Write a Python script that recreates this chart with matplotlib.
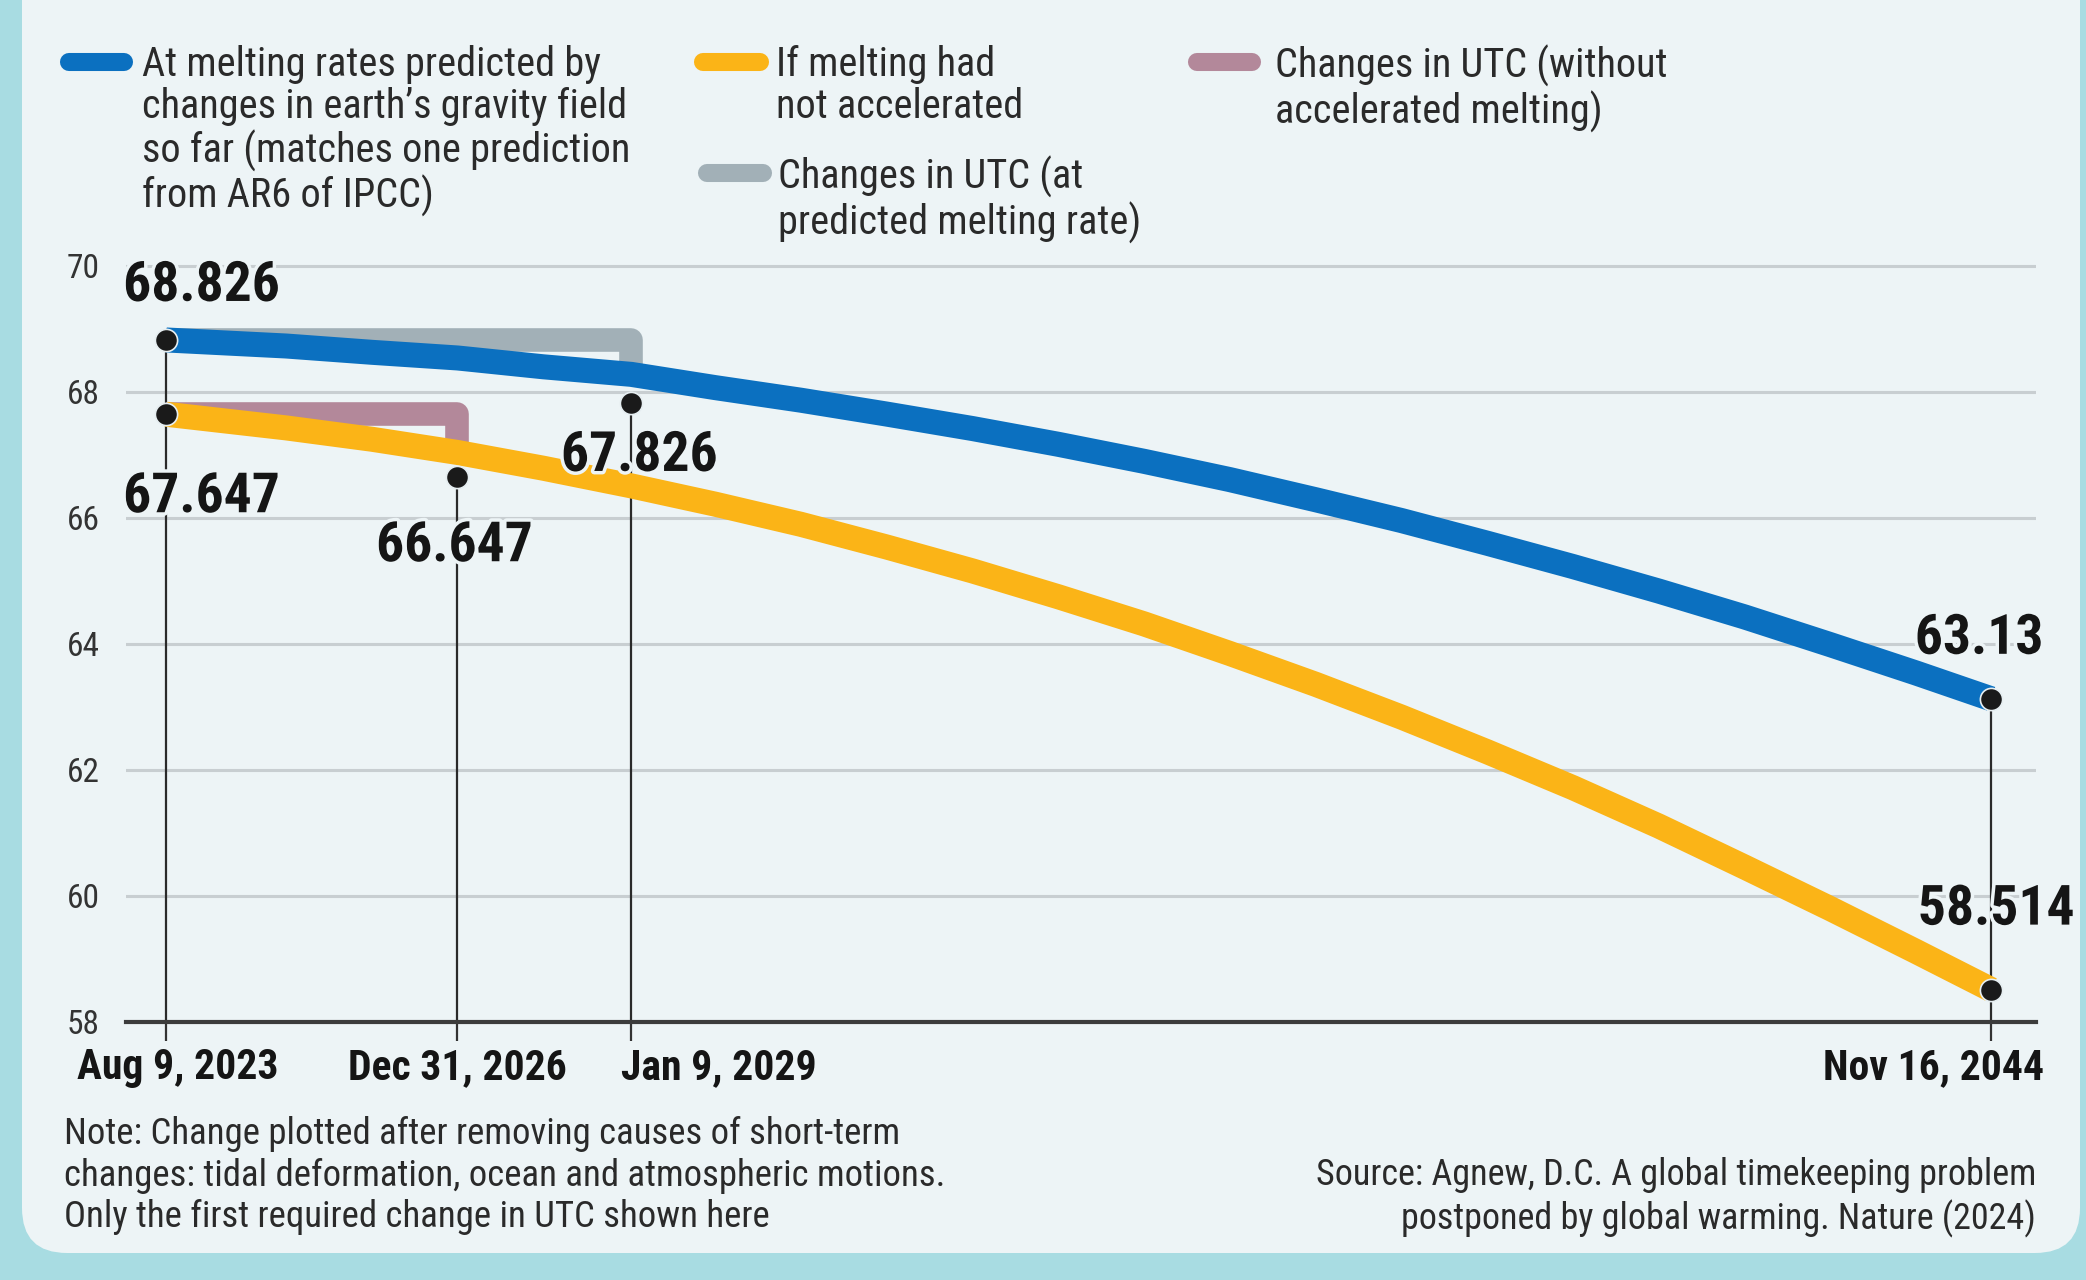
import matplotlib
matplotlib.use('Agg')
import matplotlib.pyplot as plt
import matplotlib.patheffects as pe
import matplotlib.transforms as mtransforms
from matplotlib.patches import FancyBboxPatch
from matplotlib.lines import Line2D
from matplotlib import font_manager as fm
import pandas as pd

# ---------------- data ----------------
blue_dates = ['2023-08-09', '2025-01-01', '2026-01-01', '2027-01-01', '2028-01-01',
              '2029-01-09', '2030-01-01', '2031-01-01', '2032-01-01', '2033-01-01',
              '2034-01-01', '2035-01-01', '2036-01-01', '2037-01-01', '2038-01-01',
              '2039-01-01', '2040-01-01', '2041-01-01', '2042-01-01', '2043-01-01',
              '2044-01-01', '2044-11-16']
blue_values = [68.826, 68.73, 68.63, 68.54, 68.40, 68.28, 68.07, 67.87, 67.65, 67.42,
               67.17, 66.90, 66.61, 66.29, 65.96, 65.60, 65.23, 64.84, 64.43, 63.99,
               63.54, 63.13]

yellow_dates = blue_dates
yellow_values = [67.647, 67.43, 67.25, 67.04, 66.79, 66.51, 66.22, 65.90, 65.54, 65.16,
                 64.75, 64.32, 63.85, 63.36, 62.84, 62.29, 61.72, 61.11, 60.46, 59.80,
                 59.12, 58.514]

# first required change in UTC (step lines)
utc_pred_dates = ['2023-08-09', '2029-01-09', '2029-01-09']
utc_pred_values = [68.826, 68.826, 68.28]
utc_noacc_dates = ['2023-08-09', '2026-12-31', '2026-12-31']
utc_noacc_values = [67.647, 67.647, 67.04]

# highlighted points
point_dates = ['2023-08-09', '2023-08-09', '2026-12-31', '2029-01-09', '2044-11-16', '2044-11-16']
point_values = [68.826, 67.647, 66.647, 67.826, 63.13, 58.514]

# axes
tick_dates = ['2023-08-09', '2026-12-31', '2029-01-09', '2044-11-16']
tick_labels = ['Aug 9, 2023', 'Dec 31, 2026', 'Jan 9, 2029', 'Nov 16, 2044']
y_ticks = [58, 60, 62, 64, 66, 68, 70]

legend_labels = ['At melting rates predicted by\nchanges in earth\u2019s gravity field\nso far (matches one prediction\nfrom AR6 of IPCC)',
                 'If melting had\nnot accelerated',
                 'Changes in UTC (at\npredicted melting rate)',
                 'Changes in UTC (without\naccelerated melting)']
note_text = ('Note: Change plotted after removing causes of short-term\n'
             'changes: tidal deformation, ocean and atmospheric motions.\n'
             'Only the first required change in UTC shown here')
source_text = ('Source: Agnew, D.C. A global timekeeping problem\n'
               'postponed by global warming. Nature (2024)')

# ---------------- style ----------------
available = {f.name for f in fm.fontManager.ttflist}
FAMILY = next((f for f in ['Liberation Sans Narrow', 'Roboto Condensed', 'Open Sans Condensed',
                           'Noto Sans', 'DejaVu Sans'] if f in available), 'DejaVu Sans')
plt.rcParams['font.family'] = [FAMILY, 'DejaVu Sans']

W, H = 2086, 1280
TEAL = '#A8DCE2'
PANEL = '#EDF4F6'
BLUE = '#0B70C0'
YELLOW = '#FBB417'
GRAY = '#A2B0B7'
MAUVE = '#B3889A'
INK = '#151515'
TXT = '#2A2A2A'
GRID = '#C8CED1'

fig = plt.figure(figsize=(W / 100, H / 100), dpi=100)
fig.patch.set_facecolor(TEAL)
fig.add_artist(FancyBboxPatch((22, 27), 2058, 1400,
                              boxstyle='round,pad=0,rounding_size=45',
                              transform=mtransforms.IdentityTransform(),
                              facecolor=PANEL, edgecolor='none', zorder=0))

top_px, bot_px = 234.5, 1022
ax = fig.add_axes([126 / W, 1 - bot_px / H, (2036 - 126) / W, (bot_px - top_px) / H])
ax.patch.set_visible(False)
ax.set_xlim(pd.Timestamp('2023-02-19'), pd.Timestamp('2045-05-26'))
ax.set_ylim(58, 70.5)

to_dt = pd.to_datetime

ax.set_yticks(y_ticks)
ax.set_yticklabels([str(v) for v in y_ticks])
ax.grid(axis='y', color=GRID, lw=2.2)
ax.set_axisbelow(True)
for s in ['left', 'top', 'right']:
    ax.spines[s].set_visible(False)
ax.spines['bottom'].set_color('#3C3C3C')
ax.spines['bottom'].set_linewidth(3)
ax.tick_params(axis='y', length=0, pad=19, labelsize=24, labelcolor='#333333')

ax.set_xticks(to_dt(tick_dates))
ax.set_xticklabels(tick_labels, fontsize=30, fontweight='bold', color=INK)
ax.tick_params(axis='x', length=14, width=1.6, color='#333333', pad=4, direction='out')
offs = [(12, 'center'), (0, 'center'), (-10, 'left'), (53, 'right')]
for lab, (dx, ha) in zip(ax.get_xticklabels(), offs):
    lab.set_ha(ha)
    lab.set_transform(lab.get_transform() + mtransforms.ScaledTranslation(dx / 100, 0, fig.dpi_scale_trans))

# vertical drop lines from highlighted points
for d in tick_dates:
    top = max(v for pd_, v in zip(point_dates, point_values) if pd_ == d)
    ax.vlines(to_dt(d), 58, top, color='#2A2A2A', lw=1.6, zorder=2)

# UTC step lines
ax.plot(to_dt(utc_pred_dates), utc_pred_values, color=GRAY, lw=17,
        solid_joinstyle='round', solid_capstyle='butt', zorder=2.5)
ax.plot(to_dt(utc_noacc_dates), utc_noacc_values, color=MAUVE, lw=17,
        solid_joinstyle='round', solid_capstyle='butt', zorder=2.5)

# main curves
ax.plot(to_dt(blue_dates), blue_values, color=BLUE, lw=18,
        solid_joinstyle='round', solid_capstyle='butt', zorder=3)
ax.plot(to_dt(yellow_dates), yellow_values, color=YELLOW, lw=18,
        solid_joinstyle='round', solid_capstyle='butt', zorder=3)

# points
ax.plot(to_dt(point_dates), point_values, 'o', ms=16, mfc='#1A1A1A', mec='#E6EEF1',
        mew=1.2, zorder=5, clip_on=False)

label_offsets = [(-43, 54, 'left'), (-43, -83, 'left'), (-3, -69, 'center'),
                 (8, -53, 'center'), (-12, 60, 'center'), (5, 80, 'center')]
for d, v, (dx, dy, ha) in zip(point_dates, point_values, label_offsets):
    ax.annotate(f'{v:g}', xy=(to_dt(d), v), xytext=(dx, dy), textcoords='offset pixels',
                ha=ha, va='center', fontsize=40, fontweight='bold', color=INK, zorder=4,
                annotation_clip=False,
                path_effects=[pe.withStroke(linewidth=5, foreground=PANEL)])

# ---------------- legend ----------------
def fx(x):
    return x / W

def fy(y):
    return 1 - y / H

sw = [(69, 124, 62, BLUE, 142), (703, 760, 62, YELLOW, 776),
      (707, 763, 173, GRAY, 778), (1197, 1252, 62, MAUVE, 1275)]
for (x0, x1, y, c, tx), lab in zip(sw, legend_labels):
    fig.add_artist(Line2D([fx(x0), fx(x1)], [fy(y), fy(y)], color=c, lw=13,
                          solid_capstyle='round', transform=fig.transFigure))
    fig.text(fx(tx), fy(y - 17), lab, ha='left', va='top', fontsize=29,
             color=TXT, linespacing=1.1)

fig.text(fx(64), fy(1116), note_text, ha='left', va='top', fontsize=26.5,
         color=TXT, linespacing=1.2)
fig.text(fx(2036), fy(1157), source_text, ha='right', va='top', fontsize=26,
         color=TXT, linespacing=1.22, multialignment='right')

fig.savefig('out.png', dpi=100, facecolor=fig.get_facecolor())
